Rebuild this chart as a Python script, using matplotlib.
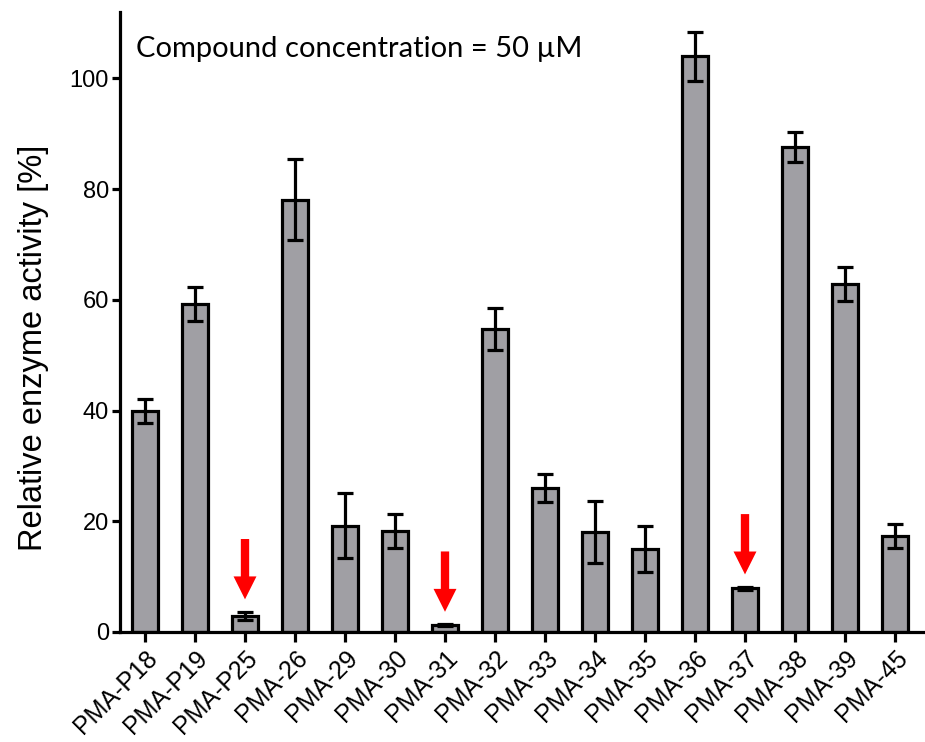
import matplotlib
matplotlib.use("Agg")
import matplotlib.pyplot as plt
import numpy as np

categories = ["PMA-P18", "PMA-P19", "PMA-P25", "PMA-26", "PMA-29", "PMA-30", "PMA-31",
              "PMA-32", "PMA-33", "PMA-34", "PMA-35", "PMA-36", "PMA-37", "PMA-38",
              "PMA-39", "PMA-45"]
activity = [39.9, 59.3, 2.9, 78.1, 19.2, 18.2, 1.3, 54.7, 26.0, 18.0, 15.0, 104.0, 7.9, 87.6, 62.9, 17.3]
errors = [2.2, 3.1, 0.8, 7.3, 5.9, 3.1, 0.15, 3.8, 2.6, 5.6, 4.2, 4.4, 0.3, 2.7, 3.1, 2.2]
highlighted = ["PMA-P25", "PMA-31", "PMA-37"]
yticks = [0, 20, 40, 60, 80, 100]
note = "Compound concentration = 50 µM"
ylabel = "Relative enzyme activity [%]"

fig = plt.figure(figsize=(9.25, 7.42), dpi=100)
ax = fig.add_axes([120/925, 110/742, 805/925, 620/742])

x = np.arange(len(categories))
ax.bar(x, activity, width=0.52, color="#a09fa4", edgecolor="black", linewidth=2.3, zorder=2)
ax.errorbar(x, activity, yerr=errors, fmt="none", ecolor="black", elinewidth=2.3,
            capsize=5.5, capthick=2.3, zorder=3)

# red arrows pointing to the highlighted compounds
for name in highlighted:
    i = categories.index(name)
    tip = activity[i] + errors[i] + 2.2
    ax.annotate("", xy=(i, tip), xytext=(i, tip + 10.9),
                arrowprops=dict(arrowstyle="simple,head_width=1.1,head_length=1.1,tail_width=0.4",
                                color="#ff0000", lw=0, shrinkA=0, shrinkB=0,
                                mutation_scale=15), zorder=4)

ax.set_xlim(-0.5, 15.6)
ax.set_ylim(0, 112)
ax.set_xticks(x)
ax.set_xticklabels(categories, rotation=45, ha="right", rotation_mode="anchor",
                   fontsize=18, family="Liberation Sans")
ax.set_yticks(yticks)
ax.set_yticklabels([str(t) for t in yticks], fontsize=17, family="Liberation Sans")
ax.tick_params(axis="x", length=7, width=2.3, pad=3)
ax.tick_params(axis="y", length=6, width=2.3, pad=2)
for s in ["top", "right"]:
    ax.spines[s].set_visible(False)
for s in ["left", "bottom"]:
    ax.spines[s].set_linewidth(2.3)

ax.set_ylabel(ylabel, fontsize=23.5, family="Liberation Sans")
ax.yaxis.set_label_coords(-0.088, 0.458)
ax.text(0.02, 0.94, note, transform=ax.transAxes, fontsize=21, family="Lato",
        ha="left", va="center")

fig.savefig("out.png", dpi=100)
